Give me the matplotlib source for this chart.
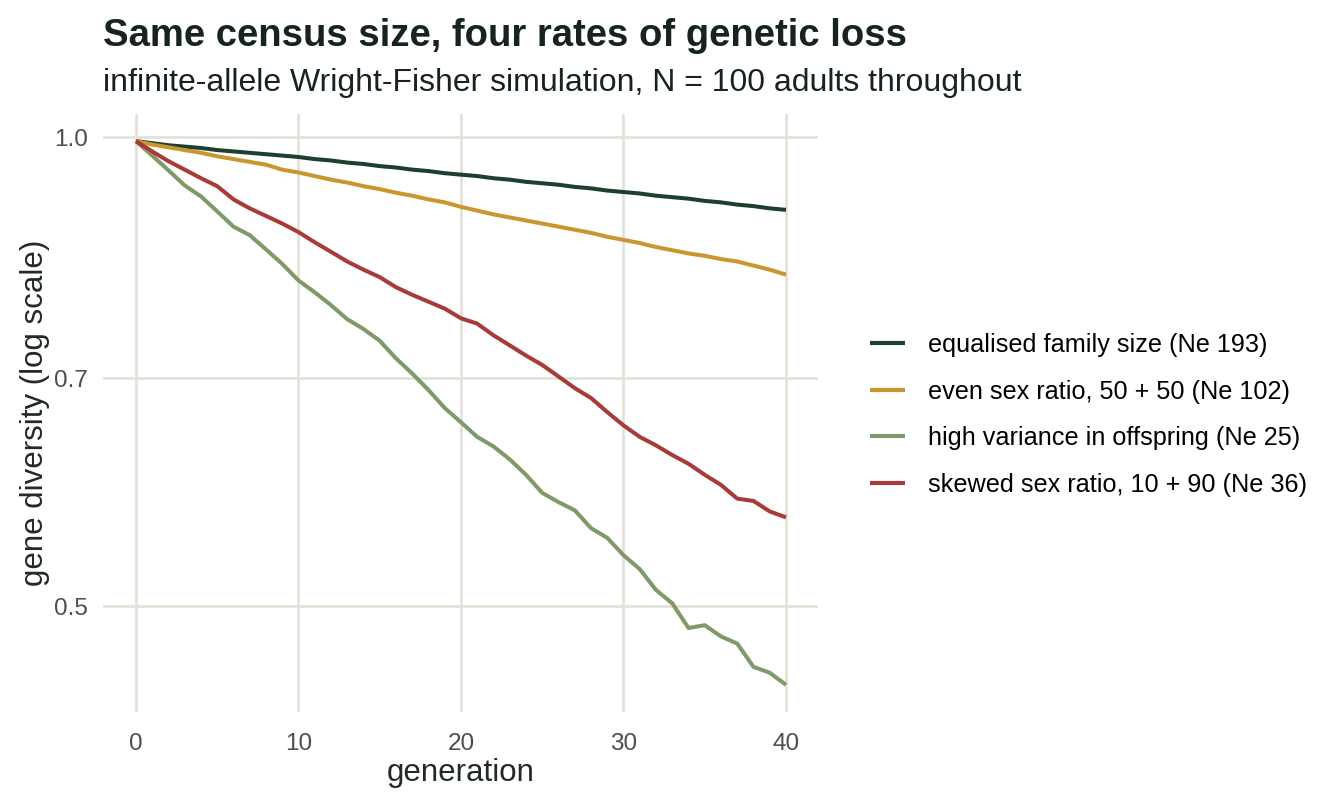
import numpy as np
import matplotlib
matplotlib.use('Agg')
import matplotlib.pyplot as plt
from matplotlib.ticker import FixedLocator, NullLocator

plt.rcParams['font.family'] = ['Liberation Sans', 'DejaVu Sans']

generation = list(range(41))

equalised = [0.994, 0.991, 0.988, 0.986, 0.984, 0.981, 0.979, 0.977, 0.975, 0.973,
             0.971, 0.968, 0.966, 0.963, 0.961, 0.958, 0.956, 0.953, 0.951, 0.948,
             0.946, 0.944, 0.941, 0.939, 0.936, 0.934, 0.932, 0.929, 0.927, 0.924,
             0.922, 0.920, 0.917, 0.915, 0.913, 0.910, 0.908, 0.905, 0.903, 0.900,
             0.898]
even = [0.994, 0.989, 0.985, 0.981, 0.977, 0.972, 0.968, 0.964, 0.960, 0.953,
        0.949, 0.944, 0.939, 0.935, 0.930, 0.926, 0.921, 0.917, 0.912, 0.908,
        0.902, 0.897, 0.892, 0.888, 0.884, 0.880, 0.876, 0.872, 0.868, 0.863,
        0.859, 0.855, 0.850, 0.846, 0.842, 0.839, 0.835, 0.832, 0.827, 0.822,
        0.816]
high_var = [0.994, 0.973, 0.952, 0.931, 0.916, 0.896, 0.876, 0.865, 0.847, 0.829,
            0.809, 0.795, 0.780, 0.764, 0.753, 0.740, 0.721, 0.705, 0.688, 0.670,
            0.656, 0.642, 0.633, 0.621, 0.607, 0.591, 0.583, 0.576, 0.561, 0.553,
            0.539, 0.528, 0.512, 0.502, 0.484, 0.486, 0.478, 0.473, 0.457, 0.453,
            0.445]
skewed = [0.994, 0.979, 0.965, 0.953, 0.941, 0.930, 0.912, 0.900, 0.890, 0.880,
          0.869, 0.856, 0.844, 0.832, 0.822, 0.813, 0.801, 0.792, 0.784, 0.776,
          0.765, 0.759, 0.746, 0.735, 0.724, 0.714, 0.702, 0.690, 0.680, 0.666,
          0.653, 0.642, 0.634, 0.625, 0.617, 0.607, 0.598, 0.586, 0.584, 0.575,
          0.570]

labels = ['equalised family size (Ne 193)',
          'even sex ratio, 50 + 50 (Ne 102)',
          'high variance in offspring (Ne 25)',
          'skewed sex ratio, 10 + 90 (Ne 36)']
colors = ['#1d3f2b', '#c9972f', '#7f9a68', '#a83a37']
series = [equalised, even, high_var, skewed]

y_ticks = [0.5, 0.7, 1.0]
y_tick_labels = ['0.5', '0.7', '1.0']
x_ticks = [0, 10, 20, 30, 40]

fig = plt.figure(figsize=(13.44, 8.06), dpi=100)
ax = fig.add_axes([0.077, 0.1166, 0.532, 0.742])

for vals, lab, col in zip(series, labels, colors):
    ax.plot(generation, vals, color=col, lw=2.9, label=lab, solid_capstyle='butt')

ax.set_yscale('log')
ax.margins(x=0.05, y=0.05)
ax.yaxis.set_major_locator(FixedLocator(y_ticks))
ax.yaxis.set_minor_locator(NullLocator())
ax.set_yticklabels(y_tick_labels)
ax.set_xticks(x_ticks)

ax.grid(True, color='#e2e2d8', lw=2.0)
ax.set_axisbelow(True)
for s in ax.spines.values():
    s.set_visible(False)
ax.tick_params(length=0, labelsize=17.5, labelcolor='#4d4d4d')
ax.tick_params(axis='y', pad=11)
ax.tick_params(axis='x', pad=15)

ax.set_xlabel('generation', fontsize=22.5, color='#222a26', va='baseline')
ax.xaxis.set_label_coords(0.5, -0.1154)
ax.set_ylabel('gene diversity (log scale)', fontsize=22.5, color='#222a26', va='center')
ax.yaxis.set_label_coords(-0.0958, 0.5)

fig.text(0.077, 0.943, 'Same census size, four rates of genetic loss',
         fontsize=27.5, fontweight='bold', color='#17231d', va='baseline')
fig.text(0.077, 0.887, 'infinite-allele Wright-Fisher simulation, N = 100 adults throughout',
         fontsize=23, color='#17231d', va='baseline')

leg = ax.legend(loc='center left', bbox_to_anchor=(1.072, 0.4967), frameon=False,
                fontsize=18.2, handlelength=1.37, handletextpad=0.94, labelspacing=0.89,
                borderpad=0, borderaxespad=0)
for line in leg.get_lines():
    line.set_linewidth(3.0)

fig.savefig('out.png', dpi=100, facecolor='white')
